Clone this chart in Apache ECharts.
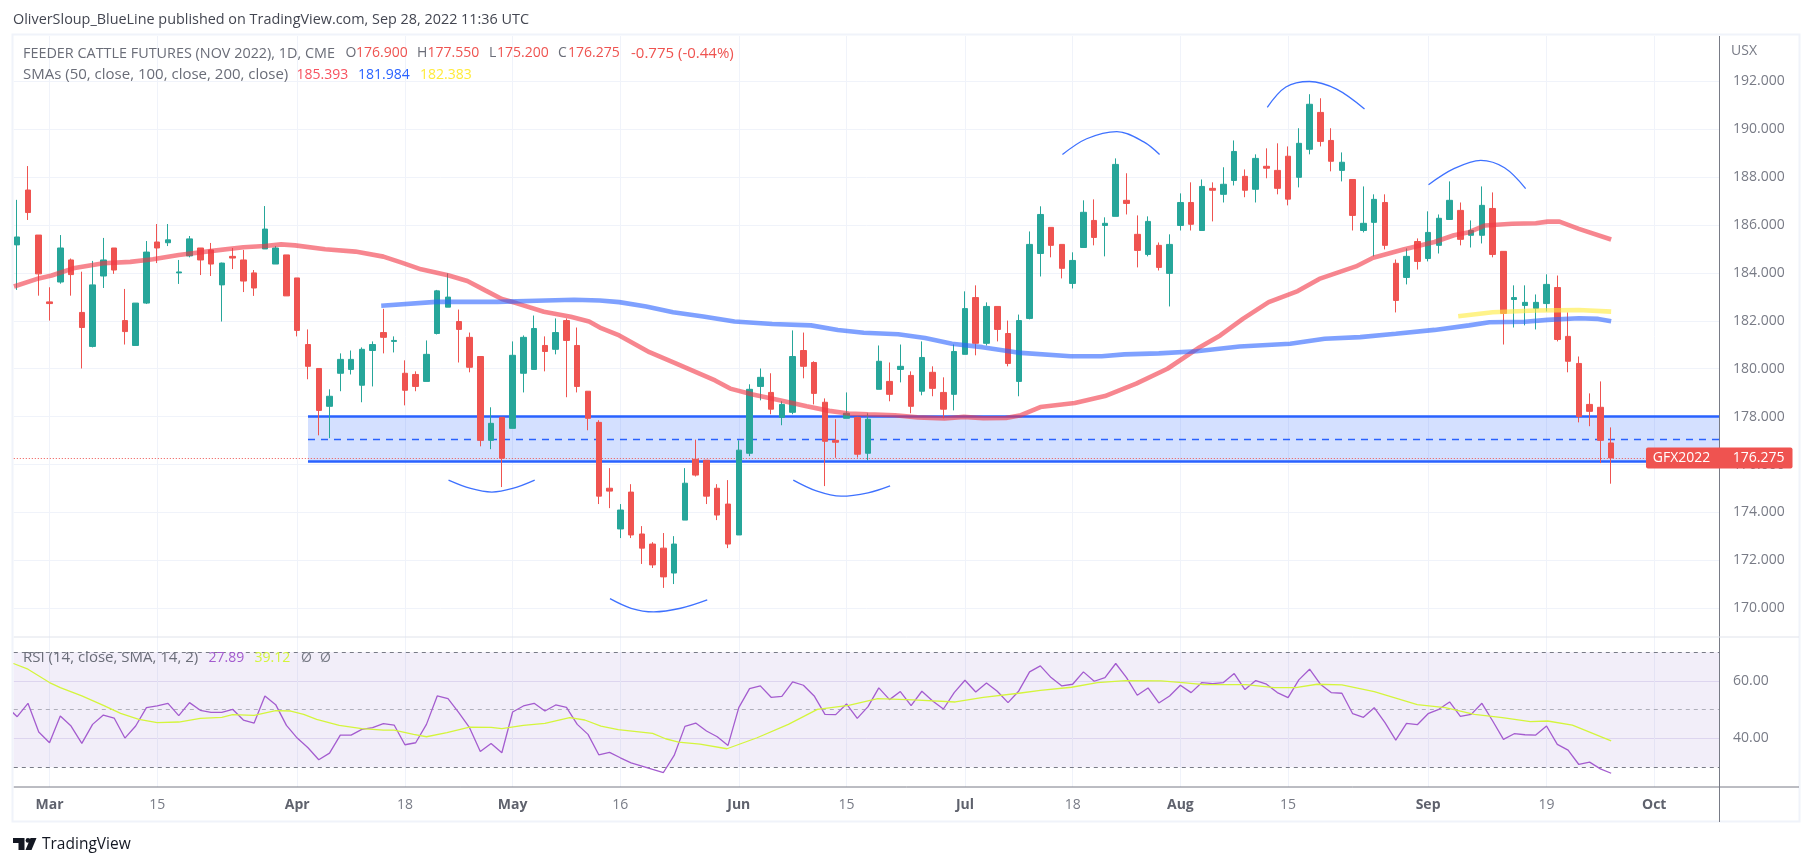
<!DOCTYPE html>
<html><head><meta charset="utf-8">
<style>html,body{margin:0;padding:0;background:#fff}#c{width:1812px;height:866px}</style>
<script src="https://cdn.jsdelivr.net/npm/echarts@6/dist/echarts.min.js"></script>
</head><body><div id="c"></div>
<script>
const dates=['02-24','02-25','02-28',
'03-01','03-02','03-03','03-04','03-07','03-08','03-09','03-10','03-11','03-14','03-15','03-16','03-17','03-18','03-21','03-22','03-23','03-24','03-25','03-28','03-29','03-30','03-31',
'04-01','04-04','04-05','04-06','04-07','04-08','04-11','04-12','04-13','04-14','04-18','04-19','04-20','04-21','04-22','04-25','04-26','04-27','04-28','04-29',
'05-02','05-03','05-04','05-05','05-06','05-09','05-10','05-11','05-12','05-13','05-16','05-17','05-18','05-19','05-20','05-23','05-24','05-25','05-26','05-27','05-31',
'06-01','06-02','06-03','06-06','06-07','06-08','06-09','06-10','06-13','06-14','06-15','06-16','06-17','06-21','06-22','06-23','06-24','06-27','06-28','06-29','06-30',
'07-01','07-05','07-06','07-07','07-08','07-11','07-12','07-13','07-14','07-15','07-18','07-19','07-20','07-21','07-22','07-25','07-26','07-27','07-28','07-29',
'08-01','08-02','08-03','08-04','08-05','08-08','08-09','08-10','08-11','08-12','08-15','08-16','08-17','08-18','08-19','08-22','08-23','08-24','08-25','08-26','08-29','08-30','08-31',
'09-01','09-02','09-06','09-07','09-08','09-09','09-12','09-13','09-14','09-15','09-16','09-19','09-20','09-21','09-22','09-23','09-26','09-27','09-28','09-29','09-30','10-03'];
const opens=[185.17,187.46,185.58,182.79,183.62,184.54,182.35,180.93,183.87,185.04,
182.01,180.97,182.74,185.29,185.26,184.0,184.71,185.04,184.96,183.5,
184.69,184.54,184.0,185.0,184.37,184.75,183.79,181.01,180.01,178.43,
179.81,179.97,179.31,180.76,181.51,181.14,179.81,179.76,179.47,181.47,
182.57,181.97,181.31,180.51,177.01,177.97,177.51,179.81,179.97,180.97,
180.81,182.01,180.97,179.06,177.76,175.01,173.31,174.85,173.1,172.68,
172.51,171.47,173.68,176.22,176.18,175.01,174.35,173.06,176.47,179.26,
179.01,177.97,178.18,180.76,180.26,178.6,177.01,177.93,177.97,176.47,
179.14,179.47,179.97,179.72,179.06,179.85,179.01,178.93,180.6,182.97,
181.06,182.6,181.47,179.47,182.1,184.81,185.9,185.19,183.56,185.06,
186.19,185.98,186.36,187.03,185.61,184.77,185.15,183.98,185.98,186.94,
185.77,187.53,187.28,187.86,188.03,187.49,188.45,188.28,188.87,187.99,
189.16,190.7,189.53,188.28,187.9,185.77,186.11,186.94,184.4,183.81,
185.31,184.6,185.15,186.23,186.61,185.57,185.57,186.69,184.9,182.89,
182.64,182.52,182.72,183.39,181.35,180.22,178.51,178.39,176.9];
const closes=[185.5,186.52,183.96,182.72,185.04,183.93,181.72,183.5,184.54,184.12,
181.55,182.74,184.87,185.04,185.38,184.04,185.42,184.54,184.37,184.41,
184.62,183.66,183.37,185.83,185.04,183.04,181.6,180.1,178.26,178.85,
180.39,180.39,180.81,181.01,181.31,181.18,179.1,179.26,180.6,183.25,
182.99,181.64,180.06,177.01,177.72,176.26,180.56,181.31,181.68,180.72,
181.51,181.18,179.26,177.93,174.68,174.89,174.1,173.06,172.51,171.81,
171.31,172.68,175.22,175.56,174.68,173.89,172.68,176.6,179.14,179.64,
178.31,178.51,180.51,180.1,178.97,176.97,176.93,178.14,176.43,177.89,
180.31,178.93,180.1,178.43,180.47,179.18,178.31,180.72,182.51,181.06,
182.6,181.64,180.22,182.01,185.19,186.44,185.15,184.19,184.52,186.53,
185.48,186.07,188.53,186.9,184.94,186.15,184.23,185.19,186.94,186.03,
187.61,187.45,187.7,189.07,187.45,188.78,188.37,187.53,187.08,189.41,
191.04,189.49,188.66,188.62,186.4,186.07,187.07,185.15,182.85,184.69,
184.48,185.69,186.28,187.03,185.4,185.77,186.82,184.77,182.31,182.97,
182.77,182.77,183.52,181.22,180.31,178.01,178.22,177.01,176.275];
const highs=[187.05,188.46,185.58,183.4,185.58,184.6,184.05,184.5,185.46,185.04,
183.33,182.74,185.33,186.04,186.04,184.54,185.54,185.04,185.25,184.43,
185.04,184.96,184.12,186.79,185.12,184.75,183.79,181.64,180.01,179.14,
180.64,180.76,180.89,181.14,182.5,181.35,180.35,179.89,181.18,183.29,
183.98,182.47,181.51,180.51,178.39,177.97,181.14,181.39,182.22,181.35,
182.1,182.1,181.72,179.06,177.85,175.85,174.35,175.18,173.43,172.76,
173.14,173.01,175.85,177.04,176.18,175.18,175.35,177.01,179.35,180.01,
179.81,178.64,181.6,181.51,180.31,178.76,177.89,179.01,178.0,178.14,
180.97,180.26,181.01,179.89,181.14,180.1,179.64,181.01,183.23,183.48,
182.77,182.6,182.01,182.26,185.73,186.78,185.9,185.19,184.86,187.03,
187.07,186.32,188.78,188.16,186.4,186.36,185.27,185.61,187.32,187.78,
187.9,187.78,188.41,189.53,188.32,188.95,189.2,189.41,189.28,190.04,
191.46,191.29,190.04,189.03,187.9,187.61,187.28,187.28,184.56,185.02,
185.44,186.57,186.44,187.82,186.94,186.19,187.61,187.36,184.9,183.48,
183.48,183.1,183.94,183.89,182.35,180.51,178.97,179.47,177.55];
const lows=[183.29,186.21,183.05,182.01,183.55,183.05,180.01,180.89,183.37,183.96,
181.01,180.97,182.7,184.41,185.12,183.54,184.65,183.91,183.87,181.97,
184.16,183.2,183.04,185.0,184.37,183.04,181.35,179.56,177.22,177.1,
179.06,179.76,178.6,179.26,180.64,180.68,178.47,179.06,179.47,181.43,
182.57,180.26,179.85,176.76,176.64,175.06,177.51,179.01,179.97,179.89,
180.6,178.81,179.01,177.43,174.35,174.18,172.93,172.93,171.85,171.68,
170.85,171.01,173.68,175.5,174.35,173.68,172.51,173.06,176.35,178.68,
178.1,177.64,178.1,179.6,178.51,175.1,176.28,177.93,176.29,176.18,
179.14,178.64,179.43,178.14,178.89,178.85,177.93,178.26,180.6,180.56,
180.97,181.14,180.1,178.85,182.06,183.85,184.65,183.77,183.35,185.06,
185.15,184.69,186.36,186.44,184.23,184.69,184.1,182.6,185.77,185.77,
185.77,186.15,186.94,187.65,187.16,186.94,187.95,187.28,186.82,187.57,
188.95,189.28,188.24,187.82,185.77,185.69,184.69,184.98,182.35,183.52,
184.14,184.48,184.81,186.23,185.15,185.06,185.23,184.65,181.01,181.72,
181.81,181.64,182.39,181.14,179.85,177.76,177.6,176.06,175.2];
// moving averages, read at bar positions: [bar, value]
const sma50=[[-0.3,183.43],[2,183.77],[3.2,183.89],[5.2,184.19],[8,184.4],[10.5,184.46],[12.6,184.57],[15,184.75],[18.3,184.93],[21,185.07],[23,185.12],[24.5,185.19],[25.8,185.15],[28.6,184.99],[31.4,184.89],[34,184.68],[35.7,184.43],[37.5,184.15],[40,183.9],[41.8,183.66],[43.5,183.26],[45,182.91],[46.4,182.73],[48.9,182.38],[51.4,182.17],[53.1,181.97],[54.1,181.72],[55.9,181.39],[58.7,180.69],[61.2,180.21],[64.8,179.51],[66.2,179.17],[68.3,178.92],[70.8,178.68],[73.3,178.43],[75.4,178.24],[77.2,178.13],[79,178.1],[81.5,178.06],[83.6,177.97],[86.1,177.92],[87.9,177.99],[89.7,177.93],[91.8,177.94],[93.2,178.06],[95,178.4],[98.2,178.57],[101,178.86],[103.9,179.38],[106.8,180.0],[109.8,180.9],[111.7,181.39],[113.8,182.08],[116.2,182.78],[118.9,183.24],[120.9,183.75],[124.3,184.27],[125.9,184.63],[128.7,184.98],[131.6,185.29],[133.4,185.57],[134.8,185.7],[136.3,185.98],[138.8,186.05],[141,186.07],[142.1,186.14],[143.2,186.14],[145,185.84],[148,185.393]];
const sma100=[[33.8,182.63],[38.9,182.79],[44.6,182.79],[48.2,182.84],[51.7,182.88],[54.1,182.85],[55.9,182.78],[58.4,182.6],[60.9,182.36],[63.7,182.18],[66.6,181.97],[70.1,181.87],[73.7,181.81],[76.2,181.62],[78.6,181.5],[81.8,181.44],[84.3,181.28],[86.8,181.04],[89.6,180.9],[93.2,180.66],[97.8,180.52],[100.7,180.52],[102.8,180.6],[106,180.64],[109.5,180.73],[113.5,180.93],[118.2,181.04],[121.4,181.25],[124.7,181.32],[128,181.46],[131.6,181.62],[134.8,181.81],[136.7,181.94],[140,181.96],[142.1,182.04],[145,182.11],[146.8,182.08],[148,181.984]];
const sma200=[[133.8,182.19],[137,182.36],[141,182.43],[145,182.45],[148,182.383]];
// RSI from the bar before the first one
const rsi=[51.05,47.56,52.21,42.21,38.49,47.79,44.3,38.26,44.88,48.14,47.09,40.12,44.3,50.7,51.28,52.21,47.91,52.44,49.77,49.07,49.07,50.12,46.4,45.35,54.77,51.74,44.53,40.12,36.74,32.56,34.88,41.16,41.16,43.14,43.72,45.12,44.65,37.79,38.49,44.88,54.77,53.84,48.95,43.72,35.47,38.26,35.0,49.19,51.28,52.21,49.53,51.63,50.81,44.88,41.4,34.3,35.12,33.26,31.51,30.35,29.19,28.14,34.07,44.19,45.35,42.56,
40.58,37.56,50.7,57.33,58.26,54.3,54.65,59.65,58.49,54.77,48.37,48.26,51.98,46.98,51.05,57.56,53.49,56.28,51.4,56.4,53.02,50.23,55.93,60.23,56.16,59.3,56.4,52.44,56.51,63.14,65.23,61.16,58.26,58.84,63.14,59.88,61.16,66.05,61.16,55.0,57.56,52.33,54.77,58.49,55.93,59.42,59.07,59.42,62.56,56.98,60.12,58.84,55.93,54.19,60.35,64.07,58.84,55.93,55.7,48.6,47.33,50.7,45.47,39.42,45.23,44.77,48.6,50.12,52.67,47.67,48.37,52.21,46.05,39.65,41.63,41.28,41.16,44.3,37.91,35.93,30.93,31.74,29.42,27.89];
const rsiSma=[[-0.35,66.05],[1,64.07],[3,59.42],[4,57.67],[6,54.77],[8,51.51],[9.6,48.72],[11.3,46.63],[13,45.47],[15,45.7],[17,46.98],[19,47.33],[20,48.26],[22,48.02],[24,49.65],[25.4,49.53],[26.6,48.37],[27.8,46.63],[29.9,44.53],[32,43.37],[34,42.91],[35,42.91],[36.8,41.4],[38,40.58],[39.9,41.98],[42,43.95],[44,43.84],[45,43.37],[47,44.53],[49,45.23],[51.3,47.21],[52.7,46.4],[54.2,44.3],[55.8,43.02],[59,41.74],[60.2,39.88],[61.4,38.72],[63.4,38.02],[65.9,36.4],[68.7,40.23],[71.6,44.88],[74.3,50.12],[77.2,51.51],[79.9,53.84],[83.2,53.37],[87.1,52.67],[89.7,54.3],[93,55.7],[95,56.74],[97.9,57.79],[100.3,59.42],[102.9,60.12],[106.2,60],[108.2,59.42],[110.2,58.72],[114.1,58.72],[116.7,57.67],[118.7,57.67],[120.7,58.84],[123,58.6],[126,56.28],[130,51.74],[132.6,50.7],[135.3,48.37],[137.9,47.21],[140.5,45.81],[142.1,46.05],[144.4,44.65],[148,39.12]];
// hand-drawn arcs: [bar, price]
const arcs=[
[[40.05,175.35],[42.1,175.0],[44.07,174.85],[46,175.0],[48.05,175.35]],
[[55.04,170.4],[57,170.0],[59.1,169.85],[61.6,170.0],[64.07,170.35]],
[[72.06,175.35],[74.2,174.9],[76.5,174.68],[79,174.82],[81.05,175.11]],
[[97.05,188.94],[99.3,189.6],[102.1,189.9],[104.6,189.47],[106.07,188.94]],
[[116.07,190.91],[117.8,191.76],[119.98,191.99],[122.5,191.67],[125.1,190.84]],
[[131.04,187.68],[133.4,188.35],[135.9,188.7],[138.1,188.39],[140.06,187.52]]];
const zoneStartBar=27, zoneTop=178, zoneMid=177.05, zoneBottom=176.15, lastClose=176.275;
const priceTicks=[170,172,174,176,178,180,182,184,186,188,190,192];
const rsiTicks=[40,60], rsiLevels=[70,50,30];
const timeTicks=[['03-01','Mar',1],['03-15','15',0],['04-01','Apr',1],['04-18','18',0],['05-02','May',1],['05-16','16',0],['06-01','Jun',1],['06-15','15',0],['07-01','Jul',1],['07-18','18',0],['08-01','Aug',1],['08-15','15',0],['09-01','Sep',1],['09-19','19',0],['10-03','Oct',1]];

const GREEN='#26a69a',RED='#ef5350',BLUE='#2962ff',GRID='#f0f3fa',TXT='#787b86',FONT='"Open Sans"';
const PL=13.8,PR=1719.5,OUT=1799,T=36,M=637,B=787,BB=822;
const xMin=-0.316,xMax=158.06;
const tickBars=timeTicks.map(t=>dates.indexOf(t[0]));
const tickInfo={};timeTicks.forEach((t,k)=>tickInfo[tickBars[k]]=t);
const candle=closes.map((c,k)=>[k,opens[k],c,lows[k],highs[k]]);
const rsiLine=rsi.map((v,k)=>[k-1,v]);
const xBase={type:'value',min:xMin,max:xMax,axisLine:{show:false},splitLine:{show:true,lineStyle:{color:GRID,width:1}}};
const ln=(data,color,w,op,xi)=>({type:'line',data,xAxisIndex:xi,yAxisIndex:xi,symbol:'none',silent:true,z:3,clip:true,lineStyle:{color,width:w,opacity:op}});
const txt=(x,y,s,fill,size,weight,align)=>({type:'text',z:50,x,y,style:{text:s,fill,font:(weight||'normal')+' '+(size||14)+'px '+FONT,textVerticalAlign:'middle',textAlign:align||'left'}});
const line=(x1,y1,x2,y2,c,w)=>({type:'line',z:20,silent:true,shape:{x1,y1,x2,y2},style:{stroke:c,lineWidth:w||1}});
const graphics=[
 {type:'rect',z:0,silent:true,shape:{x:12.5,y:34.5,width:1787,height:787},style:{fill:'none',stroke:GRID,lineWidth:2}},
 line(PR,T,PR,BB,'#787b86',1),line(PL,B,OUT,B,'#787b86',1),line(PL,M,OUT,M,'#e0e3eb',1),
 txt(13,20,'OliverSloup_BlueLine published on TradingView.com, Sep 28, 2022 11:36 UTC','#434651',14.4),
 txt(23,53.5,'FEEDER CATTLE FUTURES (NOV 2022), 1D, CME','#6a6d78',14.4),
 txt(345.6,53.5,'O','#6a6d78',14),txt(356,53.5,'176.900',RED,14),
 txt(417,53.5,'H','#6a6d78',14),txt(427.5,53.5,'177.550',RED,14),
 txt(489,53.5,'L','#6a6d78',14),txt(497,53.5,'175.200',RED,14),
 txt(558,53.5,'C','#6a6d78',14),txt(568,53.5,'176.275',RED,14),
 txt(631,53.5,'-0.775 (-0.44%)',RED,15),
 txt(23,75,'SMAs (50, close, 100, close, 200, close)','#6a6d78',15),
 txt(296.6,75,'185.393','#f7525f',14),txt(358,75,'181.984',BLUE,14),txt(420,75,'182.383','#ffeb3b',14),
 txt(1731,51,'USX',TXT,14),
 txt(23,658,'RSI (14, close, SMA, 14, 2)','#6a6d78',15),txt(208.5,658,'27.89','#a45ccf',14),txt(254.5,658,'39.12','#d4f53c',14),
 txt(301,658,'Ø','#787b86',14),txt(320,658,'Ø','#787b86',14),
 txt(42,845,'TradingView','#131722',15.5),
 {type:'polygon',z:50,silent:true,shape:{points:[[13,838],[24.5,838],[24.5,850],[18.5,850],[18.5,843],[13,843]]},style:{fill:'#131722'}},
 {type:'circle',z:50,silent:true,shape:{cx:28,cy:840.4,r:2.4},style:{fill:'#131722'}},
 {type:'polygon',z:50,silent:true,shape:{points:[[30.5,838],[36.5,838],[31.5,850],[25.5,850]]},style:{fill:'#131722'}}
];
const option={
 animation:false,backgroundColor:'#fff',
 grid:[{left:PL,top:T,width:PR-PL,height:M-T},{left:PL,top:M,width:PR-PL,height:B-M}],
 xAxis:[
  Object.assign({},xBase,{gridIndex:0,axisTick:{show:false,customValues:tickBars},axisLabel:{show:false}}),
  Object.assign({},xBase,{gridIndex:1,axisTick:{show:false,customValues:tickBars},axisLabel:{show:true,customValues:tickBars,margin:11,color:TXT,fontFamily:FONT,fontSize:14,hideOverlap:false,
    formatter:v=>{const t=tickInfo[v];return t?(t[2]?'{b|'+t[1]+'}':t[1]):'';},rich:{b:{fontWeight:'bold',color:'#5f626d',fontFamily:FONT,fontSize:14}}}})
 ],
 yAxis:[
  {type:'value',gridIndex:0,position:'right',min:168.80,max:193.89,axisLine:{show:false},axisTick:{show:false,customValues:priceTicks},splitLine:{show:true,lineStyle:{color:GRID}},
   axisLabel:{show:true,customValues:priceTicks,margin:13.5,padding:[2,0,0,0],color:TXT,fontFamily:FONT,fontSize:14,formatter:v=>v.toFixed(3)}},
  {type:'value',gridIndex:1,position:'right',min:23.1,max:75.27,axisLine:{show:false},axisTick:{show:false,customValues:rsiTicks},splitLine:{show:true,lineStyle:{color:'#e8e4f4'}},
   axisLabel:{show:true,customValues:rsiTicks,margin:13.5,color:TXT,fontFamily:FONT,fontSize:14,formatter:v=>v.toFixed(2)}}
 ],
 series:[
  {type:'candlestick',xAxisIndex:0,yAxisIndex:0,data:candle,barWidth:6,z:2,silent:true,
   itemStyle:{color:GREEN,color0:RED,borderColor:GREEN,borderColor0:RED,borderWidth:1},
   markArea:{silent:true,z:1,itemStyle:{color:'rgba(41,98,255,0.2)'},data:[[{coord:[zoneStartBar,zoneTop]},{coord:[xMax,zoneBottom]}]]},
   markLine:{silent:true,z:1,symbol:'none',label:{show:false},animation:false,data:[
     [{coord:[zoneStartBar,zoneTop],lineStyle:{color:BLUE,width:2.5,type:'solid'}},{coord:[xMax,zoneTop]}],
     [{coord:[zoneStartBar,zoneBottom],lineStyle:{color:BLUE,width:2.5,type:'solid'}},{coord:[xMax,zoneBottom]}],
     [{coord:[zoneStartBar,zoneMid],lineStyle:{color:BLUE,width:1.3,type:[7,6]}},{coord:[xMax,zoneMid]}],
     [{coord:[xMin,lastClose],lineStyle:{color:RED,width:1,type:[1,2]}},{coord:[xMax,lastClose]}]
   ]}},
  ln(sma50,'#f23645',4.6,0.6,0),ln(sma100,BLUE,4.6,0.6,0),ln(sma200,'#ffeb3b',4.6,0.6,0),
  ...arcs.map(a=>Object.assign(ln(a,BLUE,1.3,0.9,0),{smooth:0.35,z:4})),
  Object.assign(ln(rsiLine,'#a45ccf',1.3,1,1),{
    markArea:{silent:true,z:1,itemStyle:{color:'rgba(126,87,194,0.1)'},data:[[{yAxis:rsiLevels[0]},{yAxis:rsiLevels[2]}]]},
    markLine:{silent:true,z:2,symbol:'none',label:{show:false},animation:false,data:[
      {yAxis:rsiLevels[0],lineStyle:{color:'#787b86',width:1,type:[4,4]}},
      {yAxis:rsiLevels[1],lineStyle:{color:'rgba(120,123,134,0.55)',width:1,type:[4,4]}},
      {yAxis:rsiLevels[2],lineStyle:{color:'#787b86',width:1,type:[4,4]}}]}}),
  ln(rsiSma,'#d4f53c',1.3,1,1)
 ],
 graphic:{elements:graphics}
};
const chart=echarts.init(document.getElementById('c'));
chart.setOption(option);
const ly=chart.convertToPixel({xAxisIndex:0,yAxisIndex:0},[0,lastClose])[1];
chart.setOption({graphic:{elements:graphics.concat([
 {type:'rect',z:40,silent:true,shape:{x:1646,y:ly-10.5,width:146.5,height:21,r:2},style:{fill:RED}},
 txt(1652.8,ly,'GFX2022','#fff',14),txt(1732.8,ly,lastClose.toFixed(3),'#fff',14)
])}});
</script></body></html>
